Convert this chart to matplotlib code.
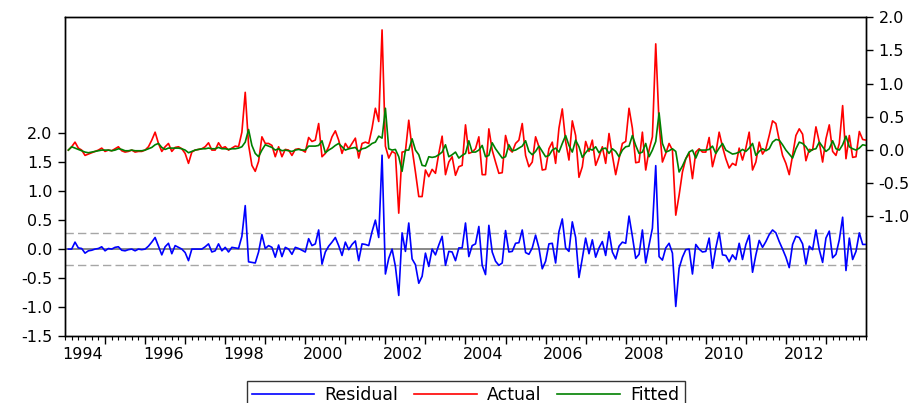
import numpy as np
import matplotlib
matplotlib.use("Agg")
import matplotlib.pyplot as plt
from matplotlib.lines import Line2D

plt.rcParams['font.family'] = ['DejaVu Sans']

# monthly data, 1994M02 .. 2014M01 (240 obs)
start_year = 1994
start_month = 2

actual = [
    0.00, 0.05, 0.12, 0.03, 0.00, -0.08, -0.06, -0.04, -0.02, 0.00, 0.03, -0.02,
    0.00, -0.01, 0.02, 0.05, -0.01, -0.03, -0.02, 0.00, -0.03, -0.02, -0.02, 0.00,
    0.05, 0.15, 0.27, 0.10, -0.02, 0.05, 0.10, -0.02, 0.04, 0.05, 0.02, -0.05,
    -0.20, -0.03, 0.00, 0.01, 0.02, 0.05, 0.11, 0.00, 0.00, 0.11, 0.03, 0.05,
    0.00, 0.03, 0.06, 0.05, 0.27, 0.87, 0.08, -0.23, -0.32, -0.17, 0.20, 0.10,
    0.10, 0.07, -0.10, 0.05, -0.10, 0.01, 0.00, -0.08, 0.01, 0.02, 0.00, -0.03,
    0.19, 0.13, 0.15, 0.40, -0.10, -0.05, 0.05, 0.20, 0.29, 0.15, -0.05, 0.10,
    0.02, 0.10, 0.18, -0.12, 0.10, 0.12, 0.10, 0.33, 0.63, 0.43, 1.81, 0.06,
    -0.12, -0.02, -0.05, -0.95, -0.03, -0.02, 0.45, 0.02, -0.33, -0.70, -0.70, -0.30,
    -0.40, -0.29, -0.35, -0.05, 0.21, -0.37, -0.18, -0.10, -0.38, -0.25, -0.23, 0.38,
    -0.05, -0.03, 0.02, 0.20, -0.37, -0.37, 0.32, 0.00, -0.18, -0.35, -0.34, 0.22,
    0.02, -0.03, 0.10, 0.15, 0.40, -0.08, -0.25, -0.18, 0.20, 0.05, -0.30, -0.29,
    0.02, 0.12, -0.20, 0.33, 0.62, 0.13, -0.15, 0.44, 0.22, -0.41, -0.25, 0.13,
    -0.02, 0.15, -0.23, -0.10, 0.05, -0.20, 0.25, -0.08, -0.37, -0.13, 0.10, 0.13,
    0.63, 0.33, -0.19, -0.18, 0.27, -0.30, 0.00, 0.20, 1.60, 0.40, -0.18, -0.05,
    0.10, 0.00, -0.98, -0.68, -0.33, -0.13, -0.05, -0.43, -0.03, 0.02, -0.03, -0.03,
    0.19, -0.25, -0.05, 0.27, 0.05, -0.13, -0.27, -0.20, -0.23, 0.03, -0.15, 0.03,
    0.27, -0.30, -0.18, 0.12, -0.06, 0.02, 0.22, 0.44, 0.40, 0.15, -0.08, -0.20,
    -0.37, -0.08, 0.22, 0.32, 0.24, -0.16, 0.01, 0.00, 0.35, 0.12, -0.18, 0.17,
    0.38, -0.02, -0.08, 0.10, 0.67, -0.13, 0.22, -0.11, -0.10, 0.28, 0.16, 0.15,
]

fitted = [
    0.00, 0.05, 0.03, 0.01, -0.01, -0.03, -0.04, -0.03, -0.02, -0.01, 0.00, 0.00,
    0.00, -0.01, 0.00, 0.02, 0.01, -0.01, -0.01, 0.00, -0.01, -0.01, -0.01, 0.00,
    0.02, 0.04, 0.08, 0.10, 0.04, 0.01, 0.03, 0.03, 0.03, 0.03, 0.02, 0.00,
    -0.04, -0.02, 0.00, 0.01, 0.02, 0.02, 0.03, 0.02, 0.02, 0.04, 0.02, 0.02,
    0.01, 0.02, 0.02, 0.03, 0.05, 0.12, 0.31, 0.07, -0.05, -0.10, 0.00, 0.08,
    0.06, 0.04, 0.00, 0.02, -0.01, 0.00, -0.01, -0.02, 0.00, 0.01, 0.00, 0.00,
    0.06, 0.06, 0.06, 0.07, 0.14, -0.04, 0.00, 0.03, 0.07, 0.10, 0.05, 0.00,
    0.02, 0.03, 0.04, -0.02, 0.02, 0.03, 0.06, 0.10, 0.12, 0.21, 0.18, 0.63,
    0.02, 0.00, 0.01, -0.10, -0.32, 0.00, 0.00, 0.17, 0.00, -0.07, -0.23, -0.24,
    -0.10, -0.11, -0.10, -0.07, -0.03, 0.08, -0.10, -0.07, -0.03, -0.12, -0.08, -0.05,
    0.14, -0.03, -0.03, 0.00, 0.07, -0.10, -0.08, 0.11, 0.02, -0.05, -0.12, -0.10,
    0.08, -0.01, 0.00, 0.03, 0.06, 0.14, -0.02, -0.07, -0.02, 0.06, -0.02, -0.10,
    -0.08, 0.00, 0.03, -0.03, 0.10, 0.22, 0.07, -0.03, 0.15, 0.05, -0.11, -0.04,
    0.02, 0.00, 0.05, -0.04, 0.02, 0.03, -0.05, 0.02, -0.02, -0.10, 0.00, 0.05,
    0.06, 0.22, 0.07, -0.05, -0.03, 0.10, -0.10, 0.00, 0.13, 0.56, 0.10, -0.03,
    -0.01, 0.02, -0.02, -0.33, -0.24, -0.13, -0.03, 0.00, -0.12, 0.00, 0.00, 0.00,
    0.01, 0.06, -0.05, 0.03, 0.10, 0.00, -0.03, -0.06, -0.05, -0.03, 0.01, -0.02,
    0.03, 0.10, -0.08, -0.02, 0.02, -0.01, 0.02, 0.12, 0.16, 0.15, 0.08, 0.00,
    -0.06, -0.12, 0.02, 0.12, 0.10, 0.05, -0.03, 0.01, 0.02, 0.12, 0.05, -0.02,
    0.02, 0.14, 0.02, 0.00, 0.08, 0.21, 0.05, 0.02, 0.00, 0.03, 0.08, 0.07,
]

residual = [
    0.00, 0.00, 0.12, 0.02, 0.01, -0.07, -0.03, -0.02, 0.00, 0.01, 0.04, -0.03,
    0.01, 0.00, 0.03, 0.04, -0.02, -0.03, -0.01, 0.00, -0.03, 0.00, -0.01, 0.00,
    0.05, 0.12, 0.20, 0.05, -0.10, 0.04, 0.10, -0.08, 0.06, 0.03, 0.00, -0.06,
    -0.20, 0.00, 0.00, 0.00, 0.00, 0.04, 0.09, -0.05, -0.03, 0.09, -0.03, 0.03,
    -0.05, 0.03, 0.02, 0.01, 0.22, 0.75, -0.22, -0.23, -0.24, -0.05, 0.25, 0.01,
    0.06, 0.03, -0.14, 0.07, -0.13, 0.03, 0.00, -0.09, 0.03, 0.01, -0.02, -0.05,
    0.18, 0.06, 0.09, 0.33, -0.26, -0.05, 0.05, 0.12, 0.20, 0.06, -0.11, 0.12,
    -0.01, 0.08, 0.14, -0.20, 0.09, 0.08, 0.06, 0.30, 0.50, 0.20, 1.62, -0.43,
    -0.16, 0.00, -0.30, -0.80, 0.28, -0.04, 0.45, -0.17, -0.27, -0.59, -0.47, -0.07,
    -0.30, 0.00, -0.10, 0.07, 0.22, -0.28, -0.04, -0.05, -0.20, 0.02, 0.02, 0.45,
    -0.13, 0.06, 0.09, 0.39, -0.28, -0.44, 0.41, -0.05, -0.21, -0.28, -0.24, 0.32,
    -0.05, -0.04, 0.10, 0.11, 0.33, -0.06, -0.09, 0.02, 0.24, 0.02, -0.34, -0.21,
    0.09, 0.10, -0.24, 0.30, 0.52, 0.02, -0.04, 0.47, 0.20, -0.49, -0.16, 0.19,
    -0.08, 0.16, -0.14, 0.02, 0.13, -0.11, 0.30, -0.05, -0.17, 0.05, 0.12, 0.10,
    0.57, 0.22, -0.16, -0.09, 0.33, -0.24, 0.07, 0.36, 1.44, -0.13, -0.19, 0.02,
    0.10, -0.07, -0.99, -0.33, -0.14, -0.01, 0.00, -0.43, 0.08, 0.00, -0.05, -0.04,
    0.19, -0.33, 0.02, 0.29, -0.10, -0.11, -0.22, -0.10, -0.18, 0.10, -0.18, 0.08,
    0.24, -0.40, -0.10, 0.15, 0.03, 0.13, 0.25, 0.33, 0.28, 0.13, 0.00, -0.14,
    -0.32, 0.08, 0.22, 0.20, 0.09, -0.26, 0.05, -0.01, 0.33, -0.01, -0.23, 0.19,
    0.31, -0.15, -0.09, 0.16, 0.55, -0.37, 0.19, -0.18, -0.04, 0.28, 0.08, 0.08,
]

resid_band = 0.27   # dotted +/- band around zero residual
year_labels = [1994, 1996, 1998, 2000, 2002, 2004, 2006, 2008, 2010, 2012]

# time axis in decimal years
n = len(actual)
t = start_year + (start_month - 1 + np.arange(n)) / 12.0

fig = plt.figure(figsize=(9.21, 4.03), dpi=100)
ax = fig.add_axes([65 / 921, 67 / 403, 801 / 921, 318.7 / 403])
ax2 = ax.twinx()

# residual on left axis
ax.axhline(0, color="#7f7f7f", lw=1.3, zorder=1)
ax.axhline(resid_band, color="#a6a6a6", lw=1.0, ls=(0, (6, 3)), zorder=1)
ax.axhline(-resid_band, color="#a6a6a6", lw=1.0, ls=(0, (6, 3)), zorder=1)
ax.plot(t, residual, color="#0000ff", lw=1.2, zorder=3)

# actual / fitted on right axis
ax2.plot(t, actual, color="#ff0000", lw=1.2)
ax2.plot(t, fitted, color="#008000", lw=1.2)

ax.set_xlim(t[0], t[-1])
ax.set_ylim(-1.5, 4.0)
ax2.set_ylim(-2.8, 2.0)

ax.set_yticks(np.arange(-1.5, 2.01, 0.5))
ax.set_yticklabels(["%.1f" % v for v in np.arange(-1.5, 2.01, 0.5)])
ax2.set_yticks(np.arange(-1.0, 2.01, 0.5))
ax2.set_yticklabels(["%.1f" % v for v in np.arange(-1.0, 2.01, 0.5)])

# year ticks at boundaries, small ticks every two months
years = np.arange(1995, 2014)
ax.set_xticks(years)
ax.set_xticklabels([])
ax.set_xticks(np.arange(1994, 2014.01, 2 / 12.0), minor=True)
for y in year_labels:
    ax.text(y + 0.45, -0.035, str(y), transform=ax.get_xaxis_transform(),
            ha="center", va="top", fontsize=11.5)

ax.tick_params(axis="x", which="major", direction="out", length=6, width=1)
ax.tick_params(axis="x", which="minor", direction="out", length=3, width=0.8)
ax.tick_params(axis="y", direction="out", length=5, width=1, labelsize=11.5, pad=4)
ax2.tick_params(axis="y", direction="out", length=5, width=1, labelsize=11.5, pad=4)

for a in (ax, ax2):
    for s in a.spines.values():
        s.set_color("black")
        s.set_linewidth(1.0)

handles = [Line2D([], [], color="#0000ff", lw=1.2),
           Line2D([], [], color="#ff0000", lw=1.2),
           Line2D([], [], color="#008000", lw=1.2)]
leg = fig.legend(handles, ["Residual", "Actual", "Fitted"], ncol=3,
                 loc="upper center", bbox_to_anchor=(0.5055, 0.054),
                 borderaxespad=0.0, fontsize=12.5, frameon=True, fancybox=False,
                 handlelength=3.6, columnspacing=0.9, borderpad=0.3,
                 handletextpad=0.6)
leg.get_frame().set_edgecolor("black")
leg.get_frame().set_linewidth(1.0)

fig.savefig("out.png", dpi=100)
